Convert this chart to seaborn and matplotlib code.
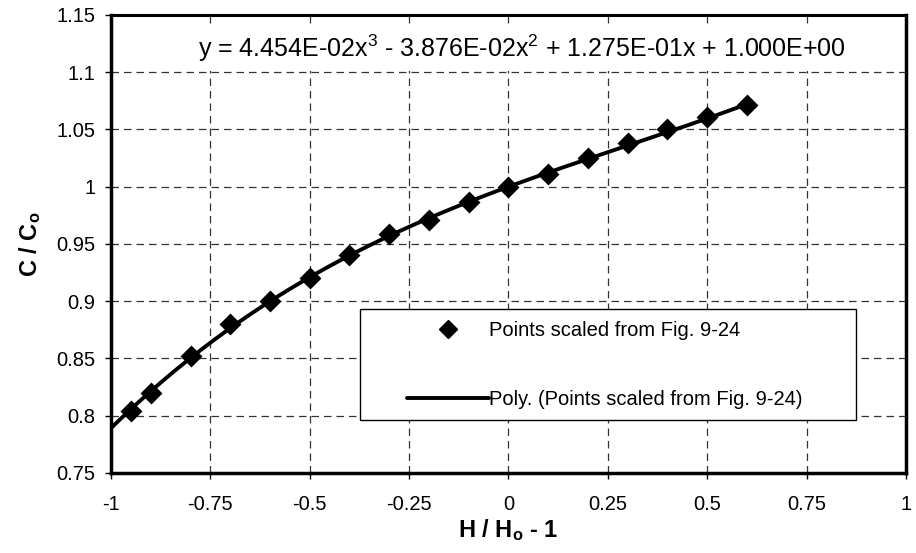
import numpy as np
import pandas as pd
import matplotlib
matplotlib.use("Agg")
import matplotlib.pyplot as plt
from matplotlib.lines import Line2D
from matplotlib.patches import Rectangle
import seaborn as sns

# Scaled points: H/Ho - 1 versus C/Co
h_ratio = [-0.95, -0.9, -0.8, -0.7, -0.6, -0.5, -0.4, -0.3, -0.2, -0.1,
           0.0, 0.1, 0.2, 0.3, 0.4, 0.5, 0.6]
c_ratio = [0.804, 0.820, 0.852, 0.880, 0.900, 0.920, 0.940, 0.959, 0.971, 0.987,
           1.000, 1.011, 1.025, 1.038, 1.050, 1.061, 1.071]

# Cubic trendline coefficients (highest power first)
poly_coeffs = [4.454e-02, -3.876e-02, 1.275e-01, 1.000e+00]
trend_range = [-1.0, 0.6]

x_ticks = [-1, -0.75, -0.5, -0.25, 0, 0.25, 0.5, 0.75, 1]
x_tick_labels = ["-1", "-0.75", "-0.5", "-0.25", "0", "0.25", "0.5", "0.75", "1"]
y_ticks = [0.75, 0.8, 0.85, 0.9, 0.95, 1.0, 1.05, 1.1, 1.15]
y_tick_labels = ["0.75", "0.8", "0.85", "0.9", "0.95", "1", "1.05", "1.1", "1.15"]

points_label = "Points scaled from Fig. 9-24"
trend_label = "Poly. (Points scaled from Fig. 9-24)"

sns.set_theme(style="white")
plt.rcParams["font.family"] = ["Liberation Sans", "DejaVu Sans"]
plt.rcParams["text.color"] = "black"
plt.rcParams["axes.labelcolor"] = "black"
plt.rcParams["mathtext.fontset"] = "custom"
plt.rcParams["mathtext.rm"] = "Liberation Sans"
plt.rcParams["mathtext.it"] = "Liberation Sans"
plt.rcParams["mathtext.bf"] = "Liberation Sans:bold"

pts = pd.DataFrame({"h": h_ratio, "c": c_ratio})
xs = np.linspace(trend_range[0], trend_range[1], 200)
trend = pd.DataFrame({"h": xs, "c": np.polyval(poly_coeffs, xs)})

fig = plt.figure(figsize=(9.16, 5.53), dpi=100)
ax = fig.add_axes([0.1212, 0.1447, 0.8678, 0.8282])

sns.lineplot(data=trend, x="h", y="c", ax=ax, color="black", linewidth=2.8,
             zorder=3, legend=False)
sns.scatterplot(data=pts, x="h", y="c", ax=ax, marker="D", s=125, color="black",
                edgecolor="black", linewidth=0, zorder=4, legend=False)

ax.set_xlim(-1, 1)
ax.set_ylim(0.75, 1.15)
ax.set_xticks(x_ticks)
ax.set_xticklabels(x_tick_labels)
ax.set_yticks(y_ticks)
ax.set_yticklabels(y_tick_labels)
ax.tick_params(axis="both", labelsize=14.5, colors="black", length=4, width=1,
               direction="out", bottom=True, left=True)
ax.tick_params(axis="x", pad=12)
ax.tick_params(axis="y", pad=7)

ax.grid(True, linestyle=(0, (6, 4)), color="#333333", linewidth=0.9)
ax.set_axisbelow(True)
for side, w in [("left", 2.5), ("bottom", 2.5), ("right", 2.5), ("top", 2.2)]:
    ax.spines[side].set_visible(True)
    ax.spines[side].set_color("black")
    ax.spines[side].set_linewidth(w)

ax.set_xlabel(r"H / H$_\mathbf{o}$ - 1", fontsize=17, fontweight="bold", labelpad=2)
ax.set_ylabel(r"C / C$_\mathbf{o}$", fontsize=17, fontweight="bold", labelpad=10)

# Trendline equation on an opaque label
eq = r"y = 4.454E-02x$^3$ - 3.876E-02x$^2$ + 1.275E-01x + 1.000E+00"
ax.text(0.035, 1.121, eq, fontsize=18, ha="center", va="center", color="black",
        zorder=5, bbox=dict(boxstyle="square,pad=0.3", facecolor="white",
                            edgecolor="none"))

# Legend frame drawn in data space, entries placed inside it
ax.add_patch(Rectangle((-0.374, 0.796), 1.248, 0.097, facecolor="white",
                       edgecolor="black", linewidth=1.0, zorder=5))
handles = [
    Line2D([], [], marker="D", linestyle="none", color="black", markersize=9),
    Line2D([], [], color="black", linewidth=2.8),
]
leg = ax.legend(handles, [points_label, trend_label],
                loc="center left", bbox_to_anchor=(0.372, 0.236),
                bbox_transform=ax.transAxes,
                fontsize=14.5, frameon=False, handlelength=4.1,
                handletextpad=0.0, labelspacing=2.5, borderpad=0,
                borderaxespad=0, labelcolor="black")
leg.set_zorder(6)

fig.savefig("out.png", dpi=100)
